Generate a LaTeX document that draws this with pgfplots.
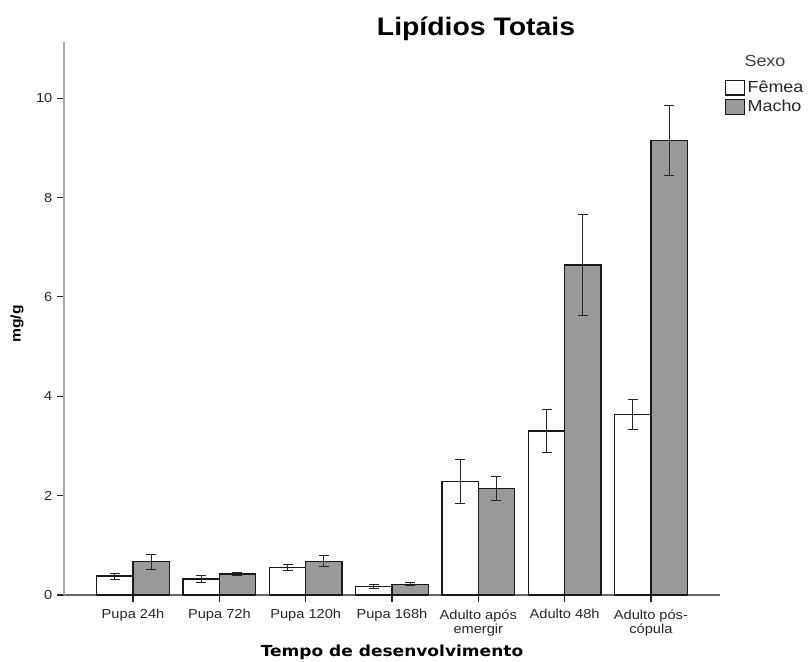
\documentclass[border=0pt]{standalone}
\usepackage{pgfplots}
\pgfplotsset{compat=1.18}
\usepackage{pgfplotstable}
\usepackage{fontspec}
\setmainfont{Liberation Sans}[FakeStretch=1.12]
\newfontfamily\titlefont{Liberation Sans}[FakeStretch=1.12]
\newfontfamily\labelfont{DejaVu Sans}[FakeStretch=1.12]
\definecolor{machofill}{RGB}{153,153,153}
\definecolor{axgray}{RGB}{170,170,170}
\pgfplotstableread{
x y e
0 0.38 0.06
1 0.32 0.07
2 0.56 0.06
3 0.175 0.04
4 2.29 0.44
5 3.30 0.44
6 3.63 0.30
}\femea
\pgfplotstableread{
x y e
0 0.67 0.15
1 0.42 0.03
2 0.68 0.11
3 0.215 0.03
4 2.15 0.24
5 6.64 1.01
6 9.15 0.71
}\macho
\begin{document}
\begin{tikzpicture}
\useasboundingbox (0,0) rectangle (606.75pt,495.75pt);
\begin{axis}[
  at={(48pt,49.5pt)}, anchor=south west,
  scale only axis,
  width=492pt, height=414.75pt,
  xmin=-0.8, xmax=6.8,
  ymin=0, ymax=11.13,
  axis x line*=bottom, axis y line*=left,
  x axis line style={draw=black!60, line width=0.8pt, -},
  y axis line style={draw=axgray, line width=1.2pt, -},
  xtick={0,1,2,3,4,5,6},
  xticklabels={Pupa 24h, Pupa 72h, Pupa 120h, Pupa 168h, {Adulto após\\emergir}, Adulto 48h, {Adulto pós-\\cópula}},
  ytick={0,2,4,6,8,10},
  tick align=outside,
  major tick length=5.25pt,
  tick style={black!85, line width=0.9pt},
  every tick label/.append style={font=\fontsize{9.8}{10.5}\selectfont, text=black!85},
  xticklabel style={align=center, yshift=-2pt},
  /pgf/number format/assume math mode=true,
  ybar, bar width=0.42,
  clip=false,
  title={\titlefont\bfseries\fontsize{19}{21}\selectfont Lipídios Totais},
  title style={at={(axis description cs:0.628,1.009)}, anchor=center},
  xlabel={\labelfont\bfseries\fontsize{11.4}{13}\selectfont Tempo de desenvolvimento},
  xlabel style={at={(axis description cs:0.5,-0.103)}, anchor=center},
  ylabel={\bfseries\fontsize{10.5}{12}\selectfont mg/g},
  ylabel style={at={(axis description cs:-0.0716,0.49)}, anchor=center, rotate=0},
  legend style={at={(axis description cs:1.0076,0.9346)}, anchor=north west, draw=none, fill=none,
    inner sep=0pt, outer sep=0pt, row sep=0.3pt,
    font=\fontsize{12}{14}\selectfont, text=black!85,
    /tikz/every even column/.append style={column sep=1pt}},
  legend cell align=left,
  legend image code/.code={\draw[#1] (0pt,-5.6pt) rectangle (14pt,5.6pt);},
  error bars/y dir=both, error bars/y explicit,
  error bars/error bar style={black!85, line width=0.75pt},
  error bars/error mark options={rotate=90, black!85, line width=0.75pt, mark size=3.75pt},
]
\addplot[fill=white, draw=black!90, line width=1pt, bar shift=-0.21,
  error bars/.cd, y dir=both, y explicit] table[x=x, y=y, y error=e] {\femea};
\addlegendentry{Fêmea}
\addplot[fill=machofill, draw=black!90, line width=1pt, bar shift=0.21,
  error bars/.cd, y dir=both, y explicit] table[x=x, y=y, y error=e] {\macho};
\addlegendentry{Macho}
\node[font=\fontsize{12}{14}\selectfont, text=black!75] at (axis description cs:1.0686,0.9656) {Sexo};
\end{axis}
\end{tikzpicture}
\end{document}
